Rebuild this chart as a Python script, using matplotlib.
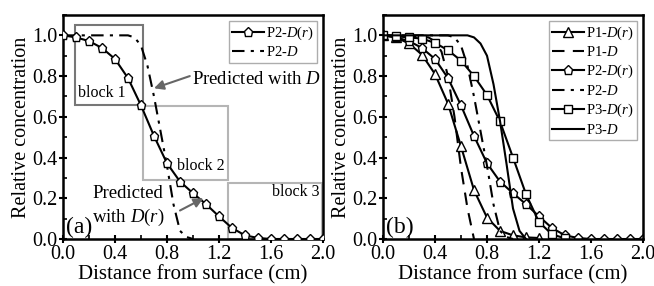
import numpy as np
import matplotlib
matplotlib.use('Agg')
import matplotlib.pyplot as plt
from matplotlib.ticker import MultipleLocator, FormatStrFormatter

plt.rcParams['font.family'] = ['Liberation Serif', 'DejaVu Serif']
plt.rcParams['mathtext.fontset'] = 'custom'
plt.rcParams['mathtext.it'] = 'Liberation Serif:italic'
plt.rcParams['mathtext.rm'] = 'Liberation Serif'

# data
x_dr = [0.0, 0.1, 0.2, 0.3, 0.4, 0.5, 0.6, 0.7, 0.8, 0.9, 1.0,
        1.1, 1.2, 1.3, 1.4, 1.5, 1.6, 1.7, 1.8, 1.9, 2.0]
p2_dr = [1.0, 0.99, 0.972, 0.938, 0.884, 0.79, 0.656, 0.506, 0.372, 0.282, 0.225,
         0.171, 0.111, 0.054, 0.018, 0.005, 0.0, 0.0, 0.0, 0.0, 0.0]

p2_d_x = [0.0, 0.5, 0.55, 0.6, 0.65, 0.7, 0.75, 0.8, 0.85, 0.9, 0.95, 1.0]
p2_d = [1.0, 1.0, 0.99, 0.95, 0.85, 0.70, 0.53, 0.36, 0.17, 0.04, 0.01, 0.0]

p1_dr_x = [0.0, 0.1, 0.2, 0.3, 0.4, 0.5, 0.6, 0.7, 0.8, 0.9, 1.0, 1.1, 1.2]
p1_dr = [1.0, 0.99, 0.96, 0.905, 0.81, 0.665, 0.455, 0.24, 0.105, 0.04, 0.018, 0.008, 0.005]

p1_d_x = [0.0, 0.35, 0.4, 0.45, 0.5, 0.55, 0.6, 0.65, 0.7]
p1_d = [1.0, 0.99, 0.97, 0.92, 0.8, 0.6, 0.35, 0.15, 0.0]

p3_dr_x = [0.0, 0.1, 0.2, 0.3, 0.4, 0.5, 0.6, 0.7, 0.8, 0.9, 1.0, 1.1, 1.2, 1.3, 1.4]
p3_dr = [1.0, 0.995, 0.99, 0.984, 0.963, 0.927, 0.876, 0.80, 0.707, 0.577, 0.40,
         0.22, 0.083, 0.023, 0.003]

p3_d_x = [0.0, 0.65, 0.7, 0.75, 0.8, 0.85, 0.9, 0.95, 1.0, 1.05, 1.1]
p3_d = [1.0, 1.0, 0.99, 0.96, 0.9, 0.76, 0.58, 0.37, 0.15, 0.04, 0.0]

# blocks in panel (a): (x0, x1, y0, y1)
blocks = [(0.092, 0.615, 0.66, 1.05), (0.615, 1.27, 0.29, 0.652), (1.272, 1.99, 0.0, 0.276)]
block_colors = ['#777777', '#b5b5b5', '#b5b5b5']

fig = plt.figure(figsize=(6.54, 2.86), dpi=100)
ax1 = fig.add_axes([0.0963, 0.1643, 0.3976, 0.7833])
ax2 = fig.add_axes([0.5856, 0.1643, 0.3976, 0.7833])

mk = dict(mfc='white', mec='black', ms=6.8, mew=1.0)


def style(ax, tag):
    ax.set_xlim(0, 2.0)
    ax.set_ylim(0, 1.1)
    ax.xaxis.set_major_locator(MultipleLocator(0.4))
    ax.xaxis.set_minor_locator(MultipleLocator(0.2))
    ax.yaxis.set_major_locator(MultipleLocator(0.2))
    ax.yaxis.set_minor_locator(MultipleLocator(0.1))
    ax.tick_params(which='major', direction='inout', length=6, width=1.5, labelsize=14.5, pad=1)
    ax.tick_params(which='minor', direction='in', length=3, width=1.2)
    ax.tick_params(top=False, right=False, which='both')
    ax.xaxis.set_major_formatter(FormatStrFormatter('%.1f'))
    ax.yaxis.set_major_formatter(FormatStrFormatter('%.1f'))
    for s in ax.spines.values():
        s.set_linewidth(1.8)
    ax.set_xlabel('Distance from surface (cm)', fontsize=15, labelpad=1)
    ax.set_ylabel('Relative concentration', fontsize=14.5, labelpad=1)
    ax.text(0.02, 0.005, tag, fontsize=17, ha='left', va='bottom')


def add_legend(ax):
    leg = ax.legend(loc='upper right', fontsize=10.5, frameon=True, fancybox=False,
                    handlelength=2.2, handletextpad=0.1, borderpad=0.25, labelspacing=0.25,
                    borderaxespad=0.4)
    leg.get_frame().set_edgecolor('#999999')
    leg.get_frame().set_linewidth(1.0)


# panel (a)
for (x0, x1, y0, y1), c in zip(blocks, block_colors):
    ax1.add_patch(plt.Rectangle((x0, y0), x1 - x0, y1 - y0, fill=False, ec=c, lw=1.5, zorder=1))
ax1.text(0.115, 0.68, 'block 1', fontsize=11.5, ha='left', va='bottom')
ax1.text(1.24, 0.32, 'block 2', fontsize=11.5, ha='right', va='bottom')
ax1.text(1.97, 0.19, 'block 3', fontsize=11.5, ha='right', va='bottom')

ax1.plot(x_dr, p2_dr, '-', color='black', lw=1.5, marker='p', label='P2-$D$($r$)', zorder=3, **mk)
ax1.plot(p2_d_x, p2_d, color='black', lw=1.5, ls=(0, (6, 3, 1.5, 3)), label='P2-$D$', zorder=2)

arrow = dict(arrowstyle='-|>', color='#666666', lw=1.5, mutation_scale=14, shrinkA=0, shrinkB=0)
ax1.text(0.99, 0.785, 'Predicted with $D$', fontsize=13.5, ha='left', va='center')
ax1.annotate('', xy=(0.70, 0.74), xytext=(0.975, 0.80), arrowprops=arrow)
ax1.text(0.50, 0.16, 'Predicted\nwith $D$($r$)', fontsize=13.5, ha='center', va='center',
         linespacing=1.3)
ax1.annotate('', xy=(1.08, 0.20), xytext=(0.90, 0.14), arrowprops=arrow)

add_legend(ax1)
style(ax1, '(a)')

# panel (b)
ax2.plot(p1_dr_x, p1_dr, '-', color='black', lw=1.5, marker='^', label='P1-$D$($r$)', **mk)
ax2.plot(p1_d_x, p1_d, color='black', lw=1.5, ls=(0, (6, 4)), label='P1-$D$')
ax2.plot(x_dr, p2_dr, '-', color='black', lw=1.5, marker='p', label='P2-$D$($r$)', **mk)
ax2.plot(p2_d_x, p2_d, color='black', lw=1.5, ls=(0, (6, 3, 1.5, 3)), label='P2-$D$')
ax2.plot(p3_dr_x, p3_dr, '-', color='black', lw=1.5, marker='s', label='P3-$D$($r$)',
         mfc='white', mec='black', ms=6, mew=1.0)
ax2.plot(p3_d_x, p3_d, '-', color='black', lw=1.5, label='P3-$D$')

add_legend(ax2)
style(ax2, '(b)')

fig.savefig('out.png', dpi=100)
